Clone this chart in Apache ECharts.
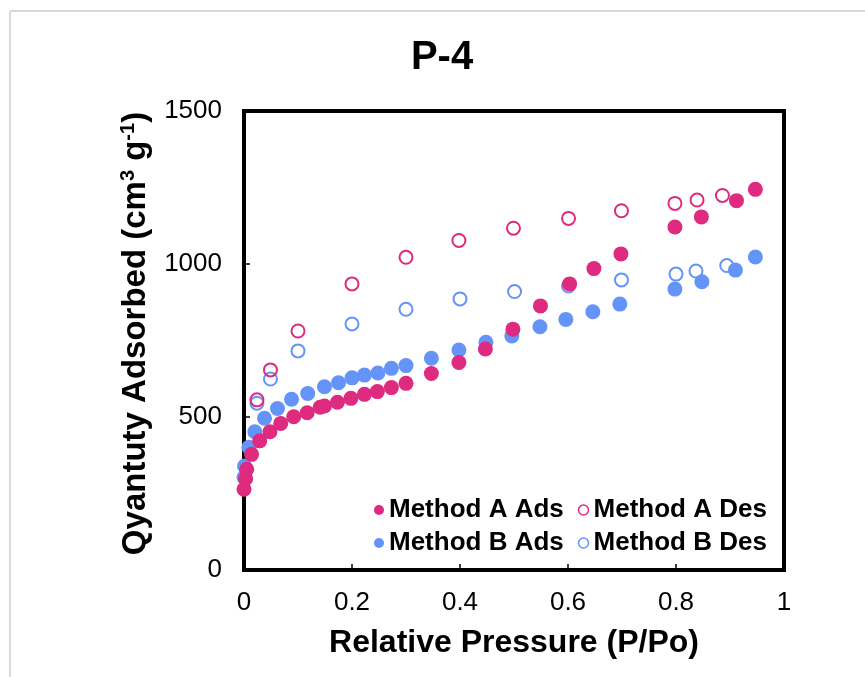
<!DOCTYPE html>
<html>
<head>
<meta charset="utf-8">
<script src="https://cdn.jsdelivr.net/npm/echarts@6/dist/echarts.min.js"></script>
<style>
  html, body { margin: 0; padding: 0; background: #fff; }
  #chart { width: 865px; height: 677px; }
</style>
</head>
<body>
<div id="chart"></div>
<script>
// Relative pressure (P/Po) and quantity adsorbed (cm3 g-1) for each branch
const aAdsP = [0.000, 0.003, 0.005, 0.014, 0.029, 0.048, 0.068, 0.092, 0.117, 0.141, 0.149, 0.173, 0.198, 0.223, 0.247, 0.273, 0.300, 0.347, 0.398, 0.447, 0.498, 0.549, 0.603, 0.648, 0.698, 0.798, 0.847, 0.912, 0.947];
const aAdsQ = [264, 298, 329, 378, 422, 452, 479, 501, 514, 532, 536, 548, 561, 574, 583, 596, 610, 642, 678, 722, 787, 863, 935, 985, 1033, 1121, 1154, 1207, 1244];

const aDesP = [0.024, 0.049, 0.100, 0.200, 0.300, 0.398, 0.499, 0.601, 0.699, 0.798, 0.839, 0.886];
const aDesQ = [556, 654, 781, 935, 1022, 1077, 1117, 1149, 1174, 1198, 1209, 1224];

const bAdsP = [0.000, 0.001, 0.009, 0.020, 0.038, 0.062, 0.088, 0.118, 0.149, 0.175, 0.200, 0.223, 0.248, 0.273, 0.300, 0.347, 0.398, 0.448, 0.496, 0.548, 0.596, 0.646, 0.696, 0.798, 0.848, 0.910, 0.947];
const bAdsQ = [303, 340, 401, 452, 496, 528, 558, 577, 599, 612, 628, 637, 644, 659, 668, 692, 719, 744, 765, 795, 819, 844, 869, 918, 942, 980, 1023];

const bDesP = [0.024, 0.049, 0.100, 0.200, 0.300, 0.400, 0.501, 0.601, 0.699, 0.800, 0.837, 0.894];
const bDesQ = [545, 624, 716, 804, 852, 886, 910, 928, 948, 967, 977, 995];

const seriesNames = ['Method A Ads', 'Method A Des', 'Method B Ads', 'Method B Des'];
const xTicks = [0, 0.2, 0.4, 0.6, 0.8, 1];
const yTicks = [0, 500, 1000, 1500];

const PINK = '#DE2A7F';
const BLUE = '#6494F8';
const FONT = '"Liberation Sans", Arial, Helvetica, sans-serif';

const pairs = (xs, ys) => xs.map((x, i) => [x, ys[i]]);

const filled = c => ({ color: c, borderWidth: 0, opacity: 1 });
const hollow = c => ({ color: 'rgba(255,255,255,0)', borderColor: c, borderWidth: 2, opacity: 1 });

const chart = echarts.init(document.getElementById('chart'));

const legendText = { fontFamily: FONT, fontSize: 26, fontWeight: 'bold', color: '#000', lineHeight: 28 };

chart.setOption({
  animation: false,
  backgroundColor: '#fff',
  textStyle: { fontFamily: FONT },
  title: {
    text: 'P-4',
    left: 437,
    top: 33,
    textAlign: 'center',
    textStyle: { fontFamily: FONT, fontSize: 40, fontWeight: 'bold', color: '#000' }
  },
  graphic: [
    { type: 'line', shape: { x1: 10, y1: 11, x2: 865, y2: 11 }, style: { stroke: '#d9d9d9', lineWidth: 2 }, silent: true },
    { type: 'line', shape: { x1: 10, y1: 11, x2: 10, y2: 677 }, style: { stroke: '#d9d9d9', lineWidth: 2 }, silent: true }
  ],
  legend: [
    {
      left: 369, top: 491, orient: 'horizontal', itemGap: 14,
      itemWidth: 10, itemHeight: 10,
      textStyle: legendText,
      data: [
        { name: seriesNames[0], icon: 'circle', itemStyle: filled(PINK) },
        { name: seriesNames[1], icon: 'circle', itemStyle: { color: '#fff', borderColor: PINK, borderWidth: 1.5 } }
      ]
    },
    {
      left: 369, top: 524, orient: 'horizontal', itemGap: 14,
      itemWidth: 10, itemHeight: 10,
      textStyle: legendText,
      data: [
        { name: seriesNames[2], icon: 'circle', itemStyle: filled(BLUE) },
        { name: seriesNames[3], icon: 'circle', itemStyle: { color: '#fff', borderColor: BLUE, borderWidth: 1.5 } }
      ]
    }
  ],
  grid: {
    left: 244, top: 111, width: 540, height: 459,
    show: true, borderColor: '#000', borderWidth: 4, backgroundColor: 'transparent'
  },
  xAxis: {
    type: 'value', min: xTicks[0], max: xTicks[xTicks.length - 1], interval: 0.2,
    axisLine: { show: true, onZero: false, lineStyle: { color: '#000', width: 4 } },
    axisTick: { show: true, inside: true, length: 6, lineStyle: { color: '#000', width: 1.5 } },
    axisLabel: { margin: 20, fontFamily: FONT, fontSize: 26, color: '#000', formatter: v => String(v) },
    splitLine: { show: false },
    name: 'Relative Pressure (P/Po)',
    nameLocation: 'middle',
    nameGap: 57,
    nameTextStyle: { fontFamily: FONT, fontSize: 32, fontWeight: 'bold', color: '#000' }
  },
  yAxis: {
    type: 'value', min: yTicks[0], max: yTicks[yTicks.length - 1], interval: 500,
    axisLine: { show: true, onZero: false, lineStyle: { color: '#000', width: 4 } },
    axisTick: { show: true, inside: true, length: 6, lineStyle: { color: '#000', width: 1.5 } },
    axisLabel: { margin: 22, fontFamily: FONT, fontSize: 26, color: '#000', formatter: v => String(v) },
    splitLine: { show: false },
    name: '{t|Qyantuty Adsorbed (cm}{s|3}{t| g}{s|-1}{t|)}',
    nameLocation: 'middle',
    nameRotate: 90,
    nameGap: 81,
    nameTextStyle: {
      padding: [0, 0, 0, 14],
      rich: {
        t: { fontFamily: FONT, fontSize: 33, fontWeight: 'bold', color: '#000', lineHeight: 38 },
        s: { fontFamily: FONT, fontSize: 20, fontWeight: 'bold', color: '#000', lineHeight: 38, padding: [0, 0, 15, 0] }
      }
    }
  },
  series: [
    {
      name: seriesNames[3], type: 'scatter', symbol: 'circle', symbolSize: 13, z: 2,
      itemStyle: hollow(BLUE), data: pairs(bDesP, bDesQ)
    },
    {
      name: seriesNames[2], type: 'scatter', symbol: 'circle', symbolSize: 15, z: 3,
      itemStyle: filled(BLUE), data: pairs(bAdsP, bAdsQ)
    },
    {
      name: seriesNames[1], type: 'scatter', symbol: 'circle', symbolSize: 13, z: 4,
      itemStyle: hollow(PINK), data: pairs(aDesP, aDesQ)
    },
    {
      name: seriesNames[0], type: 'scatter', symbol: 'circle', symbolSize: 15, z: 5,
      itemStyle: filled(PINK), data: pairs(aAdsP, aAdsQ)
    }
  ]
});
</script>
</body>
</html>
